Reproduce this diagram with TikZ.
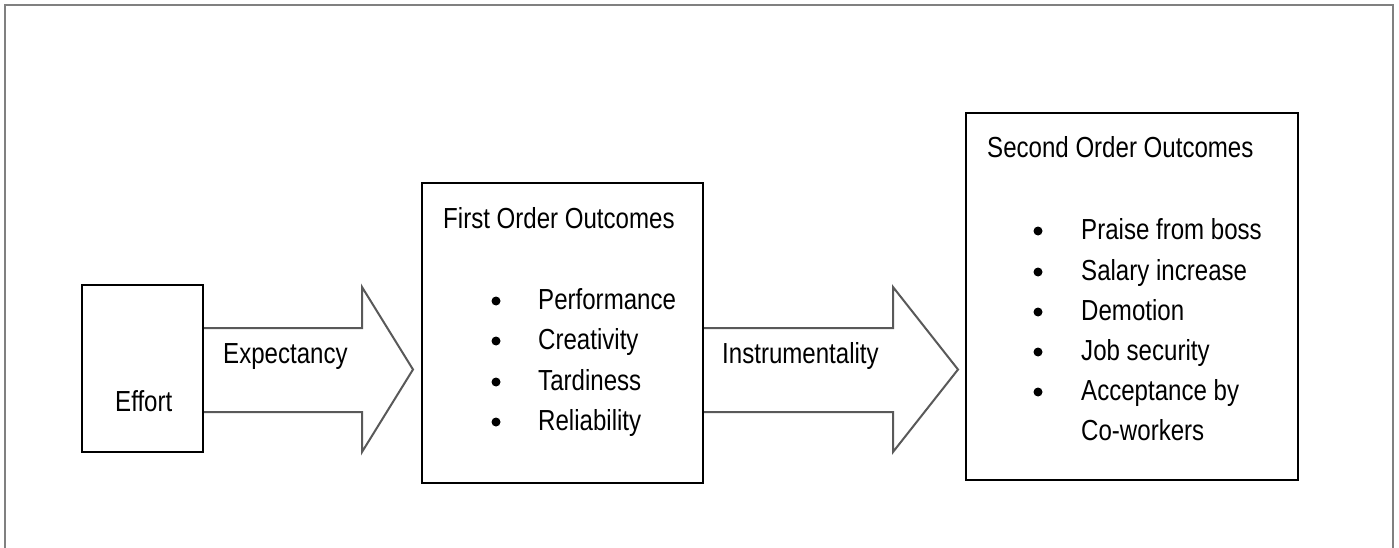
\documentclass[tikz,border=0pt]{standalone}
\usepackage{fontspec}
\setmainfont[FakeStretch=0.83]{Liberation Sans}
\pgfdeclarelayer{bg}
\pgfsetlayers{bg,main}
\begin{document}
\begin{tikzpicture}[x=1pt,y=-1pt,
  frame/.style={draw=black!50, line width=2pt},
  box/.style={draw=black, line width=1.8pt, fill=white, inner sep=0pt},
  blockarrow/.style={draw=black!65, line width=2pt, fill=white, line join=miter},
  lbl/.style={font=\fontsize{29}{35}\selectfont, anchor=base west, inner sep=0pt},
  bul/.style={circle, fill=black, inner sep=0pt, minimum size=9pt}]
\useasboundingbox (0,0) rectangle (1399,548);
\draw[frame] (5,548) -- (5,5) -- (1393,5) -- (1393,548);

% boxes
\node[box, minimum width=121pt, minimum height=167pt] (effort) at (142.5,368.5) {};
\node[box, minimum width=281pt, minimum height=300pt] (first) at (562.5,333) {};
\node[box, minimum width=332pt, minimum height=367pt] (second) at (1132,296.5) {};

% block arrows
\begin{pgfonlayer}{bg}
\draw[blockarrow] ([xshift=-10pt,yshift=40.5pt]effort.east) -- (362,328) -- (362,287)
  -- (413,369.5) -- (362,452) -- (362,412) -- ([xshift=-10pt,yshift=-43.5pt]effort.east) -- cycle;
\draw[blockarrow] ([xshift=-10pt,yshift=5pt]first.east) -- (893,328) -- (893,287)
  -- (958,369.5) -- (893,452) -- (893,412) -- ([xshift=-10pt,yshift=-79pt]first.east) -- cycle;
\end{pgfonlayer}

% labels
\node[lbl] (teffort) at (115,411) {Effort};
\node[lbl] (texp) at (223,363) {Expectancy};
\node[lbl] (tinst) at (722,363) {Instrumentality};
\node[lbl] (tfirst) at (443,228) {First Order Outcomes};
\node[lbl] (tsecond) at (987,158) {Second Order Outcomes};

% first order items
\foreach \t/\y [count=\i] in {Performance/309, Creativity/349, Tardiness/390, Reliability/430}{
  \node[bul] (fb\i) at (496,\y-8) {};
  \node[lbl] (ft\i) at (538,\y) {\t};
}
% second order items
\foreach \t/\y [count=\i] in {Praise from boss/239, Salary increase/280, Demotion/320, Job security/360, Acceptance by/400}{
  \node[bul] (sb\i) at (1038,\y-8) {};
  \node[lbl] (st\i) at (1081,\y) {\t};
}
\node[lbl] (st6) at (1081,440) {Co-workers};
\end{tikzpicture}
\end{document}
